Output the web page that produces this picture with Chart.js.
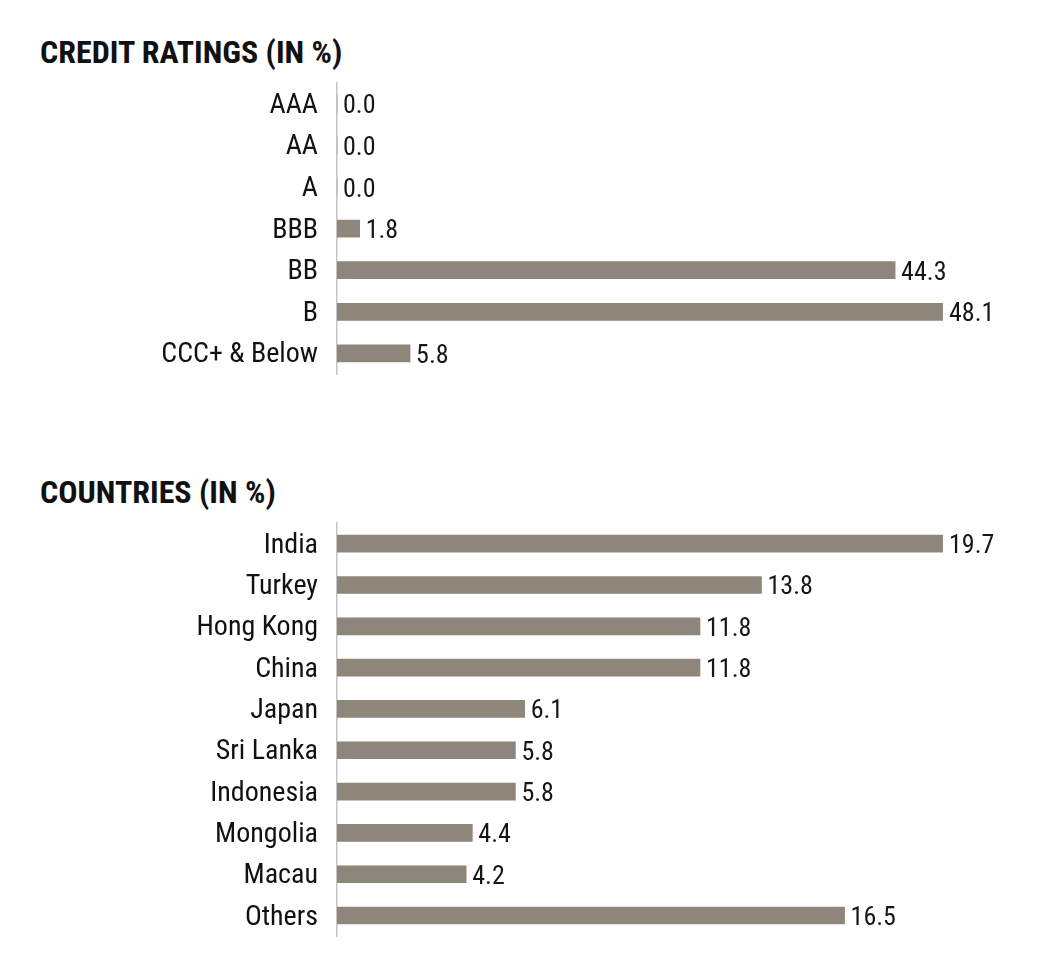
<!DOCTYPE html>
<html>
<head>
<meta charset="utf-8">
<script src="https://cdn.jsdelivr.net/npm/chart.js@4/dist/chart.umd.min.js"></script>
<style>
  html, body { margin: 0; padding: 0; background: #ffffff; }
  body { width: 1040px; height: 966px; position: relative; overflow: hidden; }
  .title { position: absolute; left: 40px; font-family: 'Roboto Condensed', 'DejaVu Sans Condensed', sans-serif; font-weight: bold; font-size: 32px; color: #111; line-height: 1; white-space: nowrap; }
  .box { position: absolute; left: 0; width: 1040px; }
</style>
</head>
<body>
<div class="title" style="top:36px">CREDIT RATINGS (IN %)</div>
<div class="box" style="top:0; height:410px"><canvas id="c1"></canvas></div>
<div class="title" style="top:476px">COUNTRIES (IN %)</div>
<div class="box" style="top:440px; height:532px"><canvas id="c2"></canvas></div>
<script>
const ratingLabels = ['AAA', 'AA', 'A', 'BBB', 'BB', 'B', 'CCC+ & Below'];
const ratingValues = [0.0, 0.0, 0.0, 1.8, 44.3, 48.1, 5.8];
const countryLabels = ['India', 'Turkey', 'Hong Kong', 'China', 'Japan', 'Sri Lanka', 'Indonesia', 'Mongolia', 'Macau', 'Others'];
const countryValues = [19.7, 13.8, 11.8, 11.8, 6.1, 5.8, 5.8, 4.4, 4.2, 16.5];

const FONT = "'Roboto Condensed', 'DejaVu Sans Condensed', sans-serif";
const BAR = '#8f867b';

const valueLabels = {
  id: 'valueLabels',
  afterDatasetsDraw(chart) {
    const ctx = chart.ctx;
    const meta = chart.getDatasetMeta(0);
    const data = chart.data.datasets[0].data;
    ctx.save();
    ctx.font = '26px ' + FONT;
    ctx.fillStyle = '#161616';
    ctx.textAlign = 'left';
    ctx.textBaseline = 'middle';
    meta.data.forEach((el, i) => {
      ctx.fillText(Number(data[i]).toFixed(1), el.x + 6, el.y + 3);
    });
    ctx.restore();
  }
};

function makeChart(id, labels, values, padTop) {
  return new Chart(document.getElementById(id), {
    type: 'bar',
    data: {
      labels: labels,
      datasets: [{ data: values, backgroundColor: BAR, borderWidth: 0, barThickness: 17 }]
    },
    options: {
      indexAxis: 'y',
      responsive: true,
      maintainAspectRatio: false,
      animation: false,
      events: [],
      layout: { padding: { left: 0, right: 97, top: padTop, bottom: 0 } },
      plugins: { legend: { display: false }, tooltip: { enabled: false }, title: { display: false } },
      scales: {
        x: { display: false, min: 0, max: Math.max(...values) },
        y: {
          grid: { display: false, drawTicks: false },
          border: { display: true, color: '#c4c4c4', width: 1.5 },
          ticks: { color: '#111', padding: 19, labelOffset: 2, font: { family: FONT, size: 28 } },
          afterFit(scale) { scale.width = 337; }
        }
      }
    },
    plugins: [valueLabels]
  });
}

makeChart('c1', ratingLabels, ratingValues, 83);
makeChart('c2', countryLabels, countryValues, 83);
</script>
</body>
</html>
